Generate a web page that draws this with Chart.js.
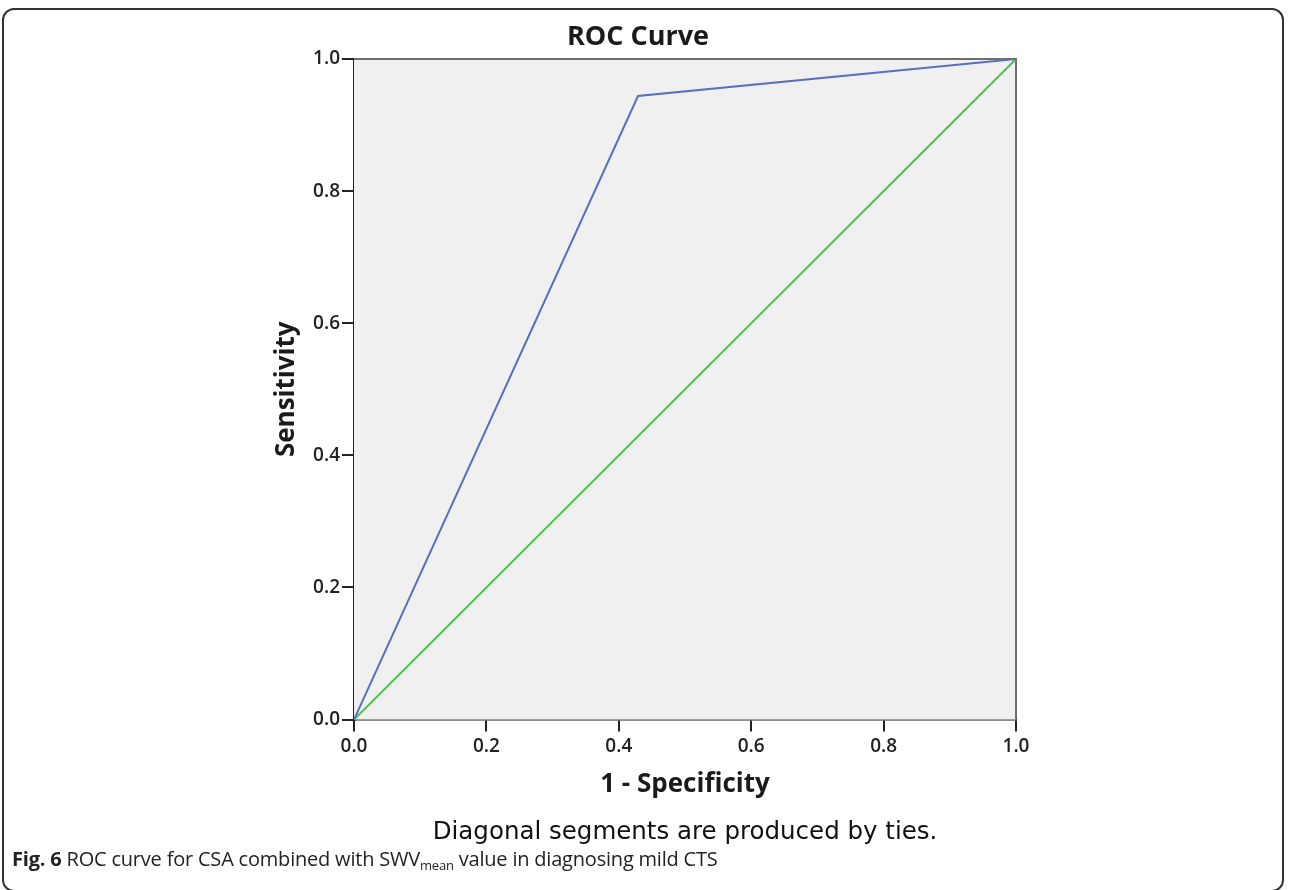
<!DOCTYPE html>
<html>
<head>
<meta charset="utf-8">
<script src="https://cdn.jsdelivr.net/npm/chart.js@4.4.1/dist/chart.umd.min.js"></script>
<style>
  html, body { margin: 0; padding: 0; background: #fff; }
  #wrap { position: relative; width: 1290px; height: 890px; overflow: hidden; }
  #frame { position: absolute; left: 2px; top: 8px; width: 1282px; height: 884px;
           border: 2px solid #333; border-radius: 12px; box-sizing: border-box; }
  #chart { position: absolute; left: 0; top: 0; }
  #caption { position: absolute; left: 12px; top: 845px; font-family: "Open Sans", sans-serif;
             font-size: 20px; color: #222; white-space: nowrap; letter-spacing: -0.2px; }
  #caption b { font-weight: 700; }
  #caption sub { font-size: 13px; vertical-align: -4px; }
</style>
</head>
<body>
<div id="wrap">
  <div id="frame"></div>
  <canvas id="chart" width="1290" height="890"></canvas>
  <div id="caption"><b>Fig. 6</b> ROC curve for CSA combined with SWV<sub>mean</sub> value in diagnosing mild CTS</div>
</div>
<script>
// ROC curve values
const rocX = [0, 0.429, 1];
const rocY = [0, 0.944, 1];
// reference diagonal
const refX = [0, 1];
const refY = [0, 1];
const tickValues = [0, 0.2, 0.4, 0.6, 0.8, 1.0];

const toPoints = (xs, ys) => xs.map((x, i) => ({ x: x, y: ys[i] }));

// grey plot background and the thin top / right frame
const plotFrame = {
  id: 'plotFrame',
  beforeDatasetsDraw(chart) {
    const { ctx, chartArea: a } = chart;
    ctx.save();
    ctx.fillStyle = '#f0f0f0';
    ctx.fillRect(a.left, a.top, a.right - a.left, a.bottom - a.top);
    ctx.strokeStyle = '#6e6e6e';
    ctx.lineWidth = 2;
    ctx.beginPath();
    ctx.moveTo(a.left, a.top);
    ctx.lineTo(a.right, a.top);
    ctx.lineTo(a.right, a.bottom);
    ctx.stroke();
    ctx.restore();
  }
};

const axisFont = { family: "'Open Sans', sans-serif", size: 19, weight: '600' };
const titleFont = { family: "'Open Sans', sans-serif", size: 26, weight: 'bold' };

new Chart(document.getElementById('chart'), {
  type: 'scatter',
  data: {
    datasets: [
      {
        data: toPoints(rocX, rocY),
        showLine: true,
        borderColor: '#5a6ebf',
        borderWidth: 2,
        pointRadius: 0,
        tension: 0
      },
      {
        data: toPoints(refX, refY),
        showLine: true,
        borderColor: '#4cc24c',
        borderWidth: 2,
        pointRadius: 0,
        tension: 0
      }
    ]
  },
  options: {
    responsive: false,
    animation: false,
    layout: { padding: { left: 260, right: 274, top: 10, bottom: 43 } },
    plugins: {
      legend: { display: false },
      tooltip: { enabled: false },
      title: {
        display: true,
        text: 'ROC Curve',
        color: '#1a1a1a',
        font: { family: "'Open Sans', sans-serif", size: 27, weight: 'bold' },
        padding: { top: 11, bottom: 5.6 }
      },
      subtitle: {
        display: true,
        position: 'bottom',
        fullSize: false,
        text: 'Diagonal segments are produced by ties.',
        color: '#111',
        font: { family: "'DejaVu Sans', sans-serif", size: 24.5 },
        padding: { top: 18, bottom: 0 }
      }
    },
    scales: {
      x: {
        type: 'linear',
        min: 0,
        max: 1,
        afterFit(scale) { scale.height = 80; },
        afterBuildTicks(scale) { scale.ticks = tickValues.map(v => ({ value: v })); },
        ticks: {
          color: '#222',
          font: axisFont,
          padding: 4,
          callback: v => v.toFixed(1)
        },
        grid: { drawOnChartArea: false, drawTicks: true, tickLength: 12, color: '#222', lineWidth: 2 },
        border: { display: true, color: '#222', width: 2.5 },
        title: {
          display: true,
          text: '1 - Specificity',
          color: '#1a1a1a',
          font: titleFont,
          padding: { top: 0, bottom: -1 }
        }
      },
      y: {
        type: 'linear',
        min: 0,
        max: 1,
        afterFit(scale) { scale.width = 94; },
        afterBuildTicks(scale) { scale.ticks = tickValues.map(v => ({ value: v })); },
        ticks: {
          color: '#222',
          font: axisFont,
          padding: 2,
          callback: v => v.toFixed(1)
        },
        grid: { drawOnChartArea: false, drawTicks: true, tickLength: 12, color: '#222', lineWidth: 2 },
        border: { display: true, color: '#222', width: 2.5 },
        title: {
          display: true,
          text: 'Sensitivity',
          color: '#1a1a1a',
          font: titleFont,
          padding: { top: 11, bottom: 0 }
        }
      }
    }
  },
  plugins: [plotFrame]
});
</script>
</body>
</html>
